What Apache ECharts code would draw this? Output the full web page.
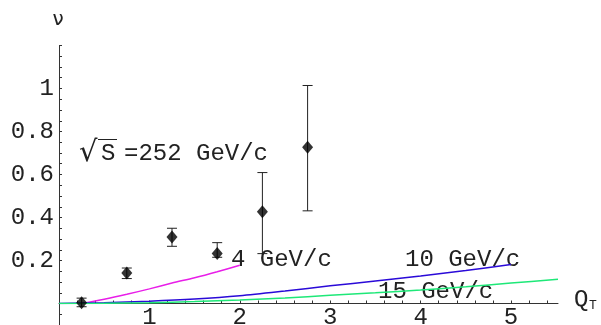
<!DOCTYPE html>
<html>
<head>
<meta charset="utf-8">
<script src="https://cdn.jsdelivr.net/npm/echarts@6/dist/echarts.min.js"></script>
<style>
  html, body { margin: 0; padding: 0; background: #fff; }
  #chart { width: 601px; height: 325px; }
</style>
</head>
<body>
<div id="chart"></div>
<script>
// Measured ratio nu versus transverse momentum Q_T
const qt      = [0.25, 0.75, 1.25, 1.75, 2.25, 2.75];
const nu      = [0.003, 0.142, 0.309, 0.232, 0.427, 0.727];
const nuLow   = [-0.015, 0.116, 0.266, 0.215, 0.232, 0.431];
const nuHigh  = [0.025, 0.165, 0.350, 0.283, 0.609, 1.014];

// Model curves for three cut-off values
const curve4x  = [0.25, 0.5, 0.75, 1.0, 1.25, 1.5, 1.75, 2.0];
const curve4y  = [0.0, 0.02, 0.043, 0.068, 0.095, 0.12, 0.148, 0.178];
const curve10x = [0, 0.5, 1.0, 1.5, 2.0, 2.5, 3.0, 3.5, 4.0, 4.5, 5.0];
const curve10y = [0, 0.004, 0.011, 0.021, 0.036, 0.058, 0.082, 0.105, 0.128, 0.154, 0.181];
const curve15x = [0, 0.5, 1.0, 1.5, 2.0, 2.5, 3.0, 3.5, 4.0, 4.5, 5.0, 5.52];
const curve15y = [0, 0.001, 0.004, 0.009, 0.016, 0.026, 0.038, 0.05, 0.063, 0.078, 0.095, 0.113];

// Axis ticks and labels
const xLabelValues = [1, 2, 3, 4, 5];
const xTickValues  = [0.2,0.4,0.6,0.8,1,1.2,1.4,1.6,1.8,2,2.2,2.4,2.6,2.8,3,3.2,3.4,3.6,3.8,4,4.2,4.4,4.6,4.8,5,5.2,5.4];
const yLabelValues = [0.2, 0.4, 0.6, 0.8, 1];
const yTickValues  = [0.05,0.1,0.15,0.2,0.25,0.3,0.35,0.4,0.45,0.5,0.55,0.6,0.65,0.7,0.75,0.8,0.85,0.9,0.95,1,1.05,1.1,1.15,1.2];
const yLowTickValues = [-0.1, -0.05];

const zip = (a, b) => a.map((v, i) => [v, b[i]]);
const FONT = 'Liberation Mono';
const TXT = '#222';
const AXIS = '#333';

const chart = echarts.init(document.getElementById('chart'), null, { renderer: 'canvas' });

chart.setOption({
  animation: false,
  backgroundColor: '#fff',
  grid: [
    // main plotting area, nu >= 0
    { left: 59, right: 43, top: 45.5, bottom: 21.5, outerBoundsMode: 'none' },
    // short strip below the Q_T axis where the nu axis continues
    { left: 59, right: 43, top: 303.5, bottom: 0, outerBoundsMode: 'none' }
  ],
  xAxis: [
    {
      type: 'value', gridIndex: 0, min: 0, max: 5.52,
      splitLine: { show: false },
      axisLine: { lineStyle: { color: AXIS, width: 1 } },
      axisTick: { inside: true, length: 3, customValues: xTickValues, lineStyle: { color: AXIS } },
      axisLabel: { customValues: xLabelValues, fontFamily: FONT, fontSize: 24, color: TXT, margin: 2 }
    },
    { type: 'value', gridIndex: 1, min: 0, max: 5.52, show: false }
  ],
  yAxis: [
    {
      type: 'value', gridIndex: 0, min: 0, max: 1.2,
      splitLine: { show: false },
      axisLine: { lineStyle: { color: AXIS, width: 1 } },
      axisTick: { inside: true, length: 3, customValues: yTickValues, lineStyle: { color: AXIS } },
      axisLabel: {
        customValues: yLabelValues, fontFamily: FONT, fontSize: 24, color: TXT, margin: 5,
        formatter: v => (Math.abs(v - 1) < 1e-9 ? '1' : v.toFixed(1))
      }
    },
    {
      type: 'value', gridIndex: 1, min: -0.1, max: 0,
      splitLine: { show: false },
      axisLine: { onZero: false, lineStyle: { color: AXIS, width: 1 } },
      axisTick: { inside: true, length: 3, customValues: yLowTickValues, lineStyle: { color: AXIS } },
      axisLabel: { show: false }
    }
  ],
  series: [
    {
      type: 'line', data: zip(curve4x, curve4y), smooth: 0.3, showSymbol: false,
      lineStyle: { color: '#e81ee8', width: 1.5 }, z: 2
    },
    {
      type: 'line', data: zip(curve10x, curve10y), smooth: 0.3, showSymbol: false,
      lineStyle: { color: '#2a0ad8', width: 1.5 }, z: 2
    },
    {
      type: 'line', data: zip(curve15x, curve15y), smooth: 0.3, showSymbol: false,
      lineStyle: { color: '#1ee878', width: 1.5 }, z: 2
    },
    {
      type: 'custom',
      data: qt.map((x, i) => [x, nuLow[i], nuHigh[i]]),
      renderItem: (params, api) => {
        const x = api.value(0);
        const lo = api.coord([x, api.value(1)]);
        const hi = api.coord([x, api.value(2)]);
        const w = 5;
        const st = { stroke: '#222', lineWidth: 1 };
        return {
          type: 'group',
          children: [
            { type: 'line', shape: { x1: lo[0], y1: lo[1], x2: hi[0], y2: hi[1] }, style: st },
            { type: 'line', shape: { x1: hi[0] - w, y1: hi[1], x2: hi[0] + w, y2: hi[1] }, style: st },
            { type: 'line', shape: { x1: lo[0] - w, y1: lo[1], x2: lo[0] + w, y2: lo[1] }, style: st }
          ]
        };
      },
      clip: false,
      z: 3
    },
    {
      type: 'scatter', data: zip(qt, nu), symbol: 'diamond', symbolSize: [11, 13],
      itemStyle: { color: '#000' }, clip: false, z: 4
    }
  ],
  graphic: [
    { type: 'text', x: 58, y: 20, style: { text: 'ν', font: '20px "DejaVu Sans"', fill: TXT, align: 'center', verticalAlign: 'middle' } },
    { type: 'text', x: 574, y: 300, style: { text: 'Q', font: '24px "' + FONT + '"', fill: TXT, verticalAlign: 'middle' } },
    { type: 'text', x: 589, y: 306, style: { text: 'T', font: '13px "' + FONT + '"', fill: TXT, verticalAlign: 'middle' } },
    // square root sign with its bar over S
    { type: 'text', x: 79, y: 153, style: { text: '√', font: '29px "DejaVu Serif"', fill: TXT, verticalAlign: 'middle' } },
    { type: 'line', shape: { x1: 98, y1: 139.5, x2: 117, y2: 139.5 }, style: { stroke: TXT, lineWidth: 1 } },
    { type: 'text', x: 101, y: 154, style: { text: 'S', font: '24px "' + FONT + '"', fill: TXT, verticalAlign: 'middle' } },
    { type: 'text', x: 124, y: 154, style: { text: '=252 GeV/c', font: '24px "' + FONT + '"', fill: TXT, verticalAlign: 'middle' } },
    { type: 'text', x: 231, y: 260, style: { text: '4 GeV/c', font: '24px "' + FONT + '"', fill: TXT, verticalAlign: 'middle' } },
    { type: 'text', x: 405, y: 260, style: { text: '10 GeV/c', font: '24px "' + FONT + '"', fill: TXT, verticalAlign: 'middle' } },
    { type: 'text', x: 378, y: 292, style: { text: '15 GeV/c', font: '24px "' + FONT + '"', fill: TXT, verticalAlign: 'middle' } }
  ]
});
</script>
</body>
</html>
